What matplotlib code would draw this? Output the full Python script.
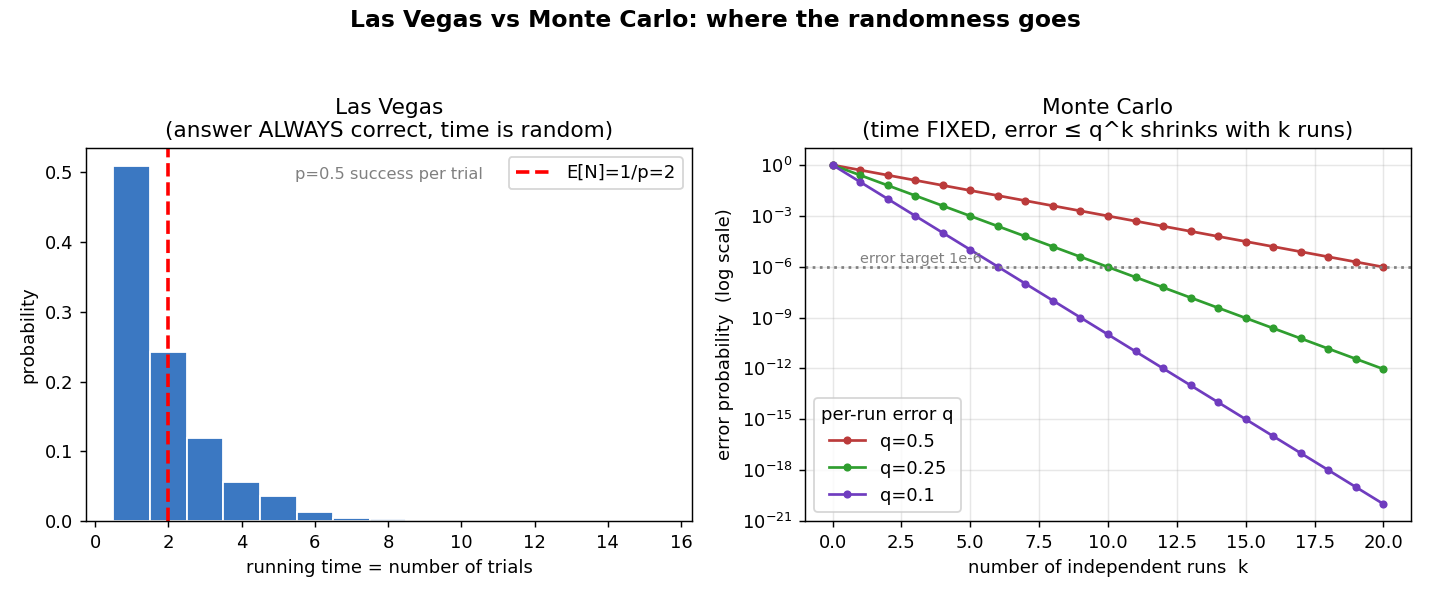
import matplotlib
matplotlib.use("Agg")
import matplotlib.pyplot as plt

# Left panel data: empirical distribution of number of trials
trials = [1, 2, 3, 4, 5, 6, 7, 8, 9, 10, 11, 12, 13, 14, 15]
probs = [0.509, 0.243, 0.119, 0.056, 0.036, 0.013, 0.004, 0.0025,
         0.0008, 0.0004, 0.0002, 0.0001, 0.00005, 0.0, 0.00005]
expected_n = 2

# Right panel data: error probability after k runs
runs_k = list(range(21))
err_q05 = [1.0, 5e-1, 2.5e-1, 1.25e-1, 6.25e-2, 3.125e-2, 1.5625e-2, 7.8125e-3,
           3.906e-3, 1.953e-3, 9.766e-4, 4.883e-4, 2.441e-4, 1.221e-4, 6.104e-5,
           3.052e-5, 1.526e-5, 7.629e-6, 3.815e-6, 1.907e-6, 9.537e-7]
err_q025 = [1.0, 2.5e-1, 6.25e-2, 1.5625e-2, 3.906e-3, 9.766e-4, 2.441e-4, 6.104e-5,
            1.526e-5, 3.815e-6, 9.537e-7, 2.384e-7, 5.960e-8, 1.490e-8, 3.725e-9,
            9.313e-10, 2.328e-10, 5.821e-11, 1.455e-11, 3.638e-12, 9.095e-13]
err_q01 = [1.0, 1e-1, 1e-2, 1e-3, 1e-4, 1e-5, 1e-6, 1e-7, 1e-8, 1e-9, 1e-10,
           1e-11, 1e-12, 1e-13, 1e-14, 1e-15, 1e-16, 1e-17, 1e-18, 1e-19, 1e-20]
series_labels = ["q=0.5", "q=0.25", "q=0.1"]
target = 1e-6

W, H = 1430, 598
fig = plt.figure(figsize=(11, 4.6), dpi=130)
ax1 = fig.add_axes([86/W, 1 - 521/H, 606/W, 373/H])
ax2 = fig.add_axes([805/W, 1 - 521/H, 606/W, 373/H])

fig.suptitle("Las Vegas vs Monte Carlo: where the randomness goes",
             fontsize=13, fontweight="bold", y=0.985)

# Left
ax1.bar(trials, probs, width=1.0, color="#3b78c2", edgecolor="white", linewidth=1)
ax1.axvline(expected_n, color="red", linestyle="--", linewidth=2,
            label="E[N]=1/p=2")
ax1.set_xlim(-0.25, 16.3)
ax1.set_ylim(0, 0.535)
ax1.set_title("Las Vegas\n(answer ALWAYS correct, time is random)", fontsize=12)
ax1.set_xlabel("running time = number of trials", fontsize=10)
ax1.set_ylabel("probability", fontsize=10)
ax1.tick_params(labelsize=10)
ax1.text(0.5, 0.95, "p=0.5 success per trial", transform=ax1.transAxes,
         ha="center", va="top", color="gray", fontsize=9)
ax1.legend(loc="upper right", fontsize=10)

# Right
colors = ["#bb3b3b", "#2f9e2f", "#6f3cbf"]
for ys, lab, c in zip([err_q05, err_q025, err_q01], series_labels, colors):
    ax2.plot(runs_k, ys, marker="o", markersize=3.5, linewidth=1.5, color=c, label=lab)
ax2.set_yscale("log")
ax2.axhline(target, color="gray", linestyle=":", linewidth=1.5)
ax2.text(1, target * 1.6, "error target 1e-6", color="gray", fontsize=8)
ax2.set_xlim(-1.0, 21.0)
ax2.set_ylim(1e-21, 10)
ax2.set_yticks([1e0, 1e-3, 1e-6, 1e-9, 1e-12, 1e-15, 1e-18, 1e-21])
ax2.minorticks_off()
ax2.set_xticks([0, 2.5, 5, 7.5, 10, 12.5, 15, 17.5, 20])
ax2.grid(True, alpha=0.3)
ax2.set_title("Monte Carlo\n(time FIXED, error \u2264 q^k shrinks with k runs)", fontsize=12)
ax2.set_xlabel("number of independent runs  k", fontsize=10)
ax2.set_ylabel("error probability  (log scale)", fontsize=10)
ax2.tick_params(labelsize=10)
ax2.legend(title="per-run error q", loc="lower left", fontsize=10, title_fontsize=10)

fig.savefig("out.png", dpi=130)
